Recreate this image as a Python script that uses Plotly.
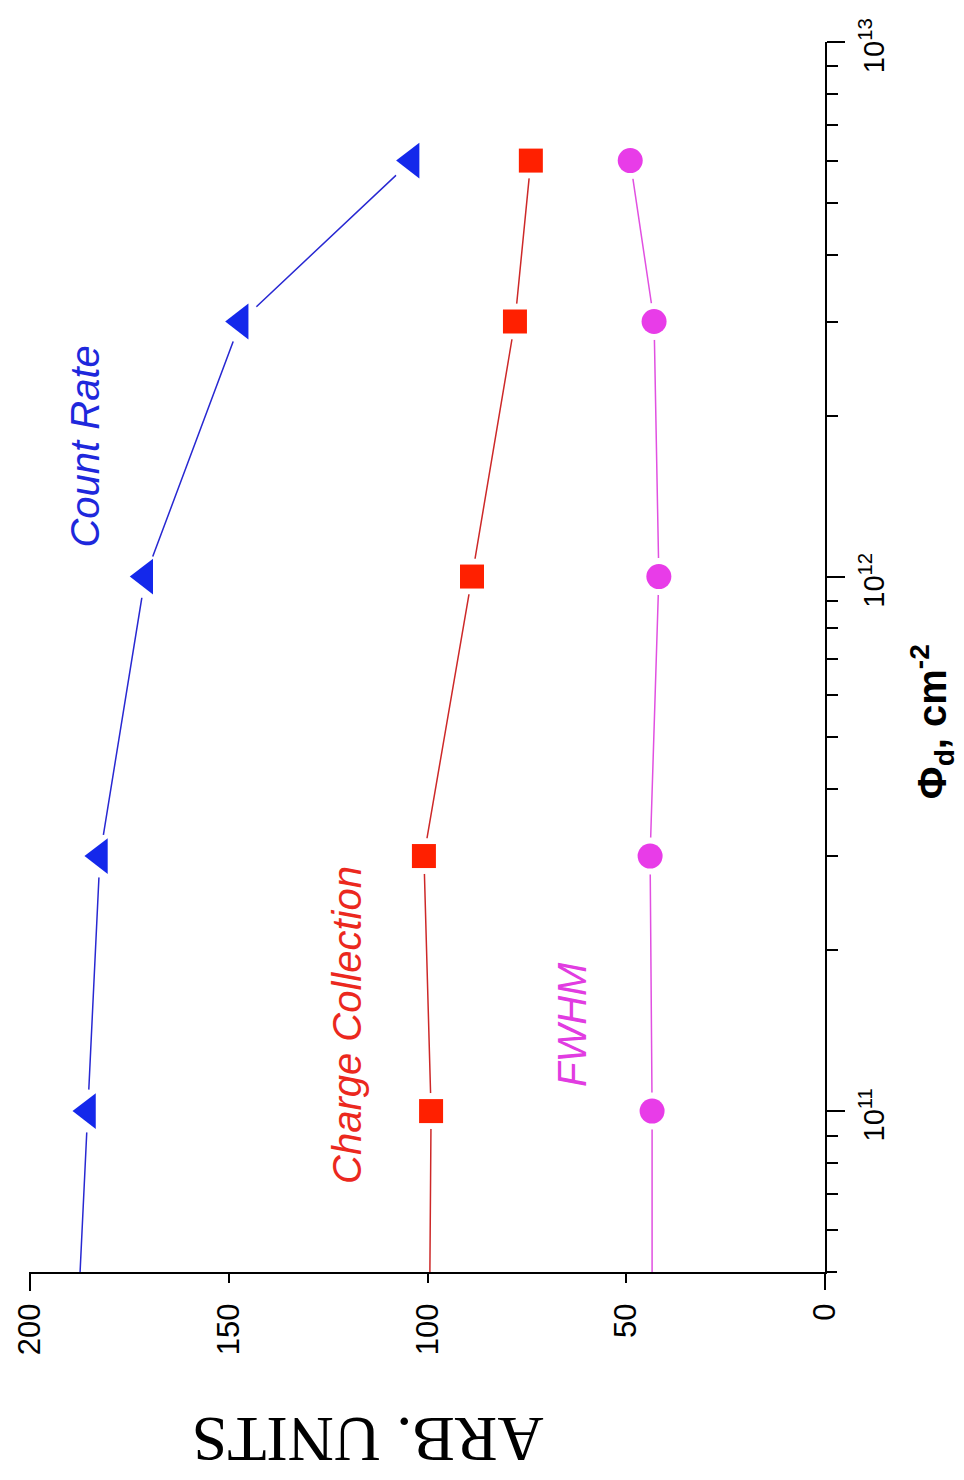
import plotly.graph_objects as go
import numpy as np

# Fluence values (cm^-2); first entry is the line start at the axis edge (no marker)
fluence = [5e10, 1e11, 3e11, 1e12, 3e12, 6e12]
count_rate = [187.4, 185.4, 182.4, 171.0, 147.0, 104.0]
charge_collection = [99.4, 99.1, 100.9, 88.8, 78.0, 74.0]
fwhm = [43.5, 43.5, 44.0, 41.8, 43.0, 49.0]

value_ticks = [0, 50, 100, 150, 200]
fluence_ticks = [1e11, 1e12, 1e13]
fluence_labels = ["10<sup>11</sup>\u00a0\u00a0", "10<sup>12</sup>\u00a0\u00a0", "10<sup>13</sup>\u00a0\u00a0"]
fluence_min, fluence_max = 5e10, 1e13
minor_fluence_ticks = [k * 10.0 ** e for e in (10, 11, 12) for k in range(2, 10)
                       if fluence_min < k * 10.0 ** e < fluence_max]

series = [
    ("Count Rate", count_rate, "rgb(40,40,210)", "rgb(20,40,235)", "triangle-left", 31),
    ("Charge Collection", charge_collection, "rgb(205,40,40)", "rgb(255,32,0)", "square", 24),
    ("FWHM", fwhm, "rgb(225,80,225)", "rgb(232,60,232)", "circle", 25),
]

fig = go.Figure()
# lines
for name, vals, lc, mc, sym, sz in series:
    fig.add_trace(go.Scatter(x=vals, y=fluence, mode="lines",
                             line=dict(color=lc, width=1.5), showlegend=False,
                             hoverinfo="skip"))
# white halos (gap between line and marker)
for name, vals, lc, mc, sym, sz in series:
    fig.add_trace(go.Scatter(x=vals[1:], y=fluence[1:], mode="markers",
                             marker=dict(symbol="circle", size=sz + 12, color="white"),
                             showlegend=False, hoverinfo="skip"))
# markers
for name, vals, lc, mc, sym, sz in series:
    fig.add_trace(go.Scatter(x=vals[1:], y=fluence[1:], mode="markers", name=name,
                             marker=dict(symbol=sym, size=sz, color=mc,
                                         line=dict(width=0)),
                             showlegend=False))

xtickfont = dict(family="Liberation Sans, Arial", size=31, color="black")
ytickfont = dict(family="Liberation Sans, Arial", size=29, color="black")

W, H = 956, 1472
L, R, T, B = 22, 139, 34, 208
pw, ph = W - L - R, H - T - B

fig.update_layout(
    width=W, height=H,
    margin=dict(l=L, r=R, t=T, b=B, autoexpand=False),
    paper_bgcolor="white", plot_bgcolor="white",
    xaxis=dict(range=[200, 0], tickvals=value_ticks, ticktext=[str(v) for v in value_ticks],
               tickangle=-90, ticks="outside", ticklen=9, tickwidth=2, tickcolor="black",
               ticklabelstandoff=8, ticklabeloverflow="allow",
               showline=True, linecolor="black", linewidth=2, showgrid=False,
               zeroline=False, tickfont=xtickfont, automargin=False),
    yaxis=dict(type="log", range=[np.log10(fluence_min), np.log10(fluence_max)], side="right",
               tickmode="array", tickvals=fluence_ticks, ticktext=fluence_labels,
               tickangle=-90,
               ticks="outside", ticklen=18, tickwidth=2, tickcolor="black",
               ticklabelstandoff=4, ticklabeloverflow="allow",
               minor=dict(ticks="outside", ticklen=11, tickwidth=2, tickcolor="black",
                          tickmode="array", tickvals=minor_fluence_ticks, showgrid=False),
               showline=True, linecolor="black", linewidth=2, showgrid=False,
               zeroline=False, tickfont=ytickfont, automargin=False),
)

# axis extensions at the corners (long end tick at left, vertical axis below, horizontal past right)
fig.add_shape(type="line", xref="paper", yref="paper", x0=0, x1=0, y0=0, y1=-19 / ph,
              line=dict(color="black", width=2))
fig.add_shape(type="line", xref="paper", yref="paper", x0=1, x1=1, y0=0, y1=-18 / ph,
              line=dict(color="black", width=2))
fig.add_shape(type="line", xref="paper", yref="paper", x0=1, x1=1 + 12 / pw, y0=0, y1=0,
              line=dict(color="black", width=2))

ann_font = "Liberation Sans, Arial"
common = dict(xref="paper", yref="paper", showarrow=False, xanchor="center", yanchor="middle")
fig.add_annotation(x=0.069, y=0.671, text="<i>Count Rate</i>", textangle=-90,
                   font=dict(family=ann_font, size=40, color="rgb(30,40,220)"), **common)
fig.add_annotation(x=0.399, y=0.201, text="<i>Charge Collection</i>", textangle=-90,
                   font=dict(family=ann_font, size=40, color="rgb(235,40,30)"), **common)
fig.add_annotation(x=0.682, y=0.201, text="<i>FWHM</i>", textangle=-90,
                   font=dict(family=ann_font, size=40, color="rgb(225,60,225)"), **common)
fig.add_annotation(x=1.1346, y=0.447, text="<b>Φ<sub>d</sub>, cm<sup>-2</sup></b>", textangle=-90,
                   font=dict(family=ann_font, size=40, color="black"), **common)
fig.add_annotation(x=0.425, y=-0.1366, text="ARB. UNITS", textangle=180,
                   font=dict(family="Liberation Serif, Times New Roman", size=64, color="black"),
                   **common)

fig.write_html("out.html")
